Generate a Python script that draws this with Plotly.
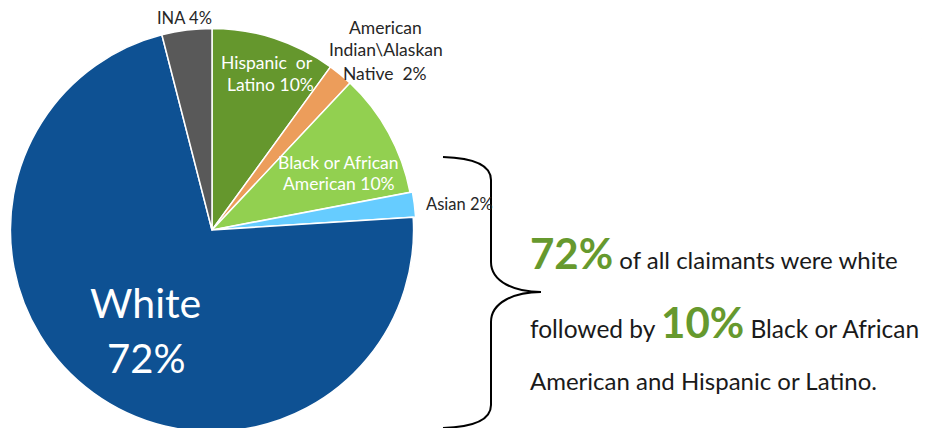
import plotly.graph_objects as go

W, H = 930, 428
OFF = 8  # page body margin offset

labels = ["Hispanic or Latino", "American Indian\\Alaskan Native", "Black or African American",
          "Asian", "White", "INA"]
values = [10, 2, 10, 2, 72, 4]
colors = ["#65972D", "#EC9D5B", "#92D050", "#66CCFF", "#0E5193", "#595959"]
pulls = [0, 0, 0, 0.012, 0, 0]

FONT = "Lato, Carlito, sans-serif"

fig = go.Figure()

# pie geometry (page pixels): center (212,230), radius 204
cx, cy, r = 212, 230, 204
fig.add_trace(go.Pie(
    labels=labels, values=values, sort=False, direction="clockwise", rotation=0,
    marker=dict(colors=colors, line=dict(color="white", width=1.5)),
    textinfo="none", hoverinfo="label+percent", showlegend=False, pull=pulls,
    domain=dict(x=[(cx - r - OFF) / W, (cx + r - OFF) / W],
                y=[1 - (cy + r - OFF) / H, 1 - (cy - r - OFF) / H]),
))

# hidden axes in page-pixel coordinates for annotations and shapes
fig.update_xaxes(range=[OFF, OFF + W], visible=False, fixedrange=True)
fig.update_yaxes(range=[OFF + H, OFF], visible=False, fixedrange=True)

def ann(text, x, y, size, color="#262626", xanchor="center", yanchor="middle"):
    fig.add_annotation(text=text, x=x, y=y, xref="x", yref="y", showarrow=False,
                       font=dict(family=FONT, size=size, color=color),
                       xanchor=xanchor, yanchor=yanchor, align="center")

ann("INA 4%", 184, 18, 16.5)
ann("American", 385, 27, 17.5)
ann("Indian\\Alaskan", 386, 49, 17.5)
ann("Native  2%", 385, 73, 17.5)
ann("Hispanic  or", 267, 62, 17.5, "white")
ann("Latino 10%", 270, 84, 17.5, "white")
ann("Black or African", 338, 162, 17.5, "white")
ann("American 10%", 339, 183, 17.5, "white")
ann("Asian 2%", 424, 204, 16.5, xanchor="left")
ann("White", 145, 302, 41, "white")
ann("72%", 146, 358, 40, "white")

GREEN = "#66992E"
ann("<span style='font-size:42px;color:%s'><b>72%%</b></span> of all claimants were white" % GREEN,
    528, 253, 24, "#1a1a1a", xanchor="left")
ann("followed by <span style='font-size:42px;color:%s'><b>10%%</b></span> Black or African" % GREEN,
    528, 322, 24.5, "#1a1a1a", xanchor="left")
ann("American and Hispanic or Latino.", 528, 380, 24, "#1a1a1a", xanchor="left")

# curly brace
brace = ("M 443,157 C 475,158 491,165 491,180 L 491,262 C 491,282 515,292 541,292 "
         "C 515,292 491,302 491,322 L 491,405 C 491,420 475,427 443,428")
fig.add_shape(type="path", path=brace, xref="x", yref="y", line=dict(color="black", width=2))

# clipped grey arc at right edge (paper coords, not clipped to subplot)
def px(x):
    return (x - OFF) / W
def py(y):
    return 1 - (y - OFF) / H
arc = "M %.4f,%.4f Q %.4f,%.4f %.4f,%.4f" % (px(925), py(38), px(926), py(62), px(934), py(84))
fig.add_shape(type="path", path=arc, xref="paper", yref="paper",
              line=dict(color="#595959", width=6))

fig.update_layout(width=W, height=H, margin=dict(l=0, r=0, t=0, b=0),
                  paper_bgcolor="white", plot_bgcolor="white")

fig.write_html("out.html")
